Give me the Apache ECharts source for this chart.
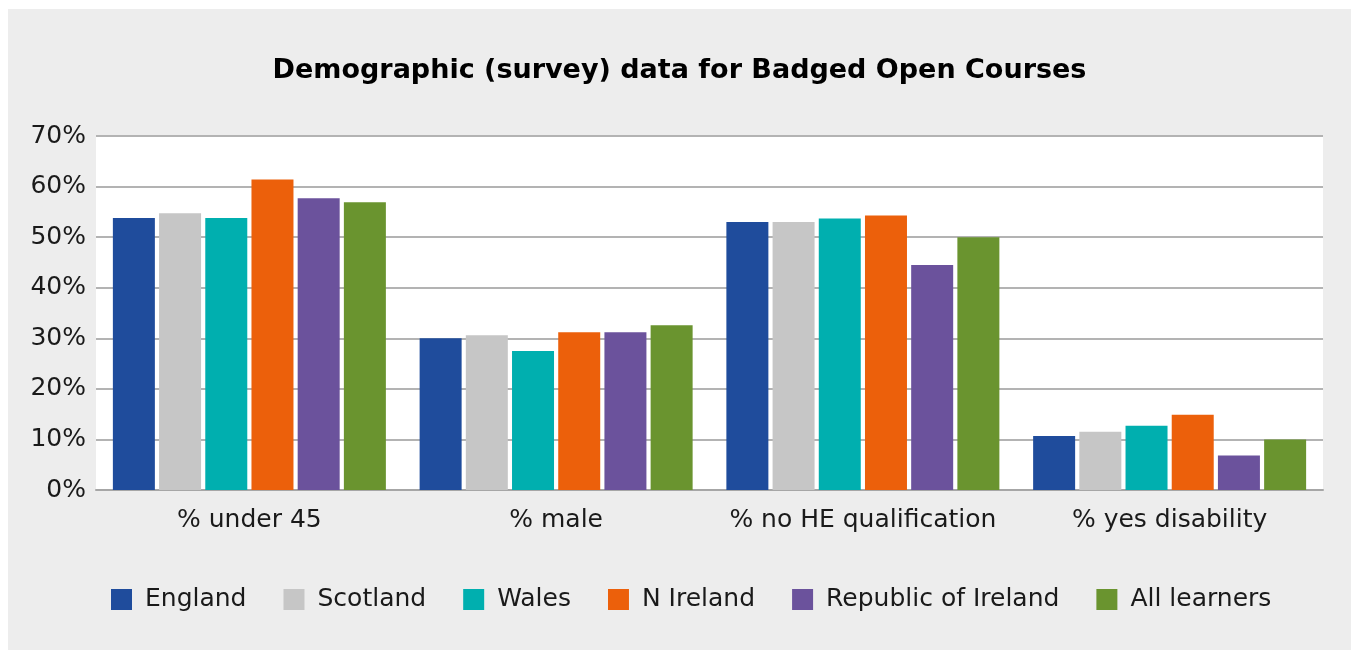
<!DOCTYPE html>
<html>
<head>
<meta charset="utf-8">
<script src="https://cdn.jsdelivr.net/npm/echarts@6/dist/echarts.min.js"></script>
<style>
  html, body { margin: 0; padding: 0; background: #fff; }
  #chart { position: absolute; left: 8px; top: 9px; width: 1343px; height: 641px; background: #ededed; }
</style>
</head>
<body>
<div id="chart"></div>
<script>
const categories = ["% under 45", "% male", "% no HE qualification", "% yes disability"];
const seriesNames = ["England", "Scotland", "Wales", "N Ireland", "Republic of Ireland", "All learners"];
const england = [53.8, 30.0, 53.0, 10.7];
const scotland = [54.7, 30.6, 53.0, 11.5];
const wales = [53.8, 27.5, 53.7, 12.7];
const nIreland = [61.4, 31.2, 54.3, 14.9];
const roi = [57.7, 31.2, 44.5, 6.8];
const allLearners = [56.9, 32.6, 50.0, 10.0];
const colors = ["#1f4c9c", "#c6c6c6", "#00afaf", "#ec600b", "#6b529c", "#6a942f"];

const values = [england, scotland, wales, nIreland, roi, allLearners];
const font = "'DejaVu Sans', sans-serif";

const chart = echarts.init(document.getElementById("chart"));
chart.setOption({
  animation: false,
  color: colors,
  title: {
    text: "Demographic (survey) data for Badged Open Courses",
    left: "center",
    top: 43,
    textStyle: { fontFamily: font, fontSize: 27, fontWeight: "bold", color: "#000" }
  },
  legend: {
    data: seriesNames,
    top: 573,
    left: 98,
    icon: "rect",
    itemWidth: 21,
    itemHeight: 21,
    itemGap: 37,
    textStyle: { fontFamily: font, fontSize: 25, color: "#1a1a1a", padding: [0, 0, 0, 8] }
  },
  grid: {
    left: 88, right: 28, top: 127, bottom: 160,
    show: true, backgroundColor: "#fff", borderWidth: 0
  },
  xAxis: {
    type: "category",
    data: categories,
    axisTick: { show: false },
    axisLine: { lineStyle: { color: "#a6a6a6", width: 2 } },
    axisLabel: { interval: 0, fontFamily: font, fontSize: 25, color: "#1a1a1a", margin: 18 }
  },
  yAxis: {
    type: "value",
    min: 0, max: 70, interval: 10,
    axisLabel: { formatter: "{value}%", fontFamily: font, fontSize: 25, color: "#1a1a1a", margin: 10 },
    splitLine: { lineStyle: { color: "#b3b3b3", width: 2 } }
  },
  series: seriesNames.map((name, i) => ({
    name: name,
    type: "bar",
    data: values[i],
    barWidth: 42,
    barGap: "10%"
  }))
});
</script>
</body>
</html>
